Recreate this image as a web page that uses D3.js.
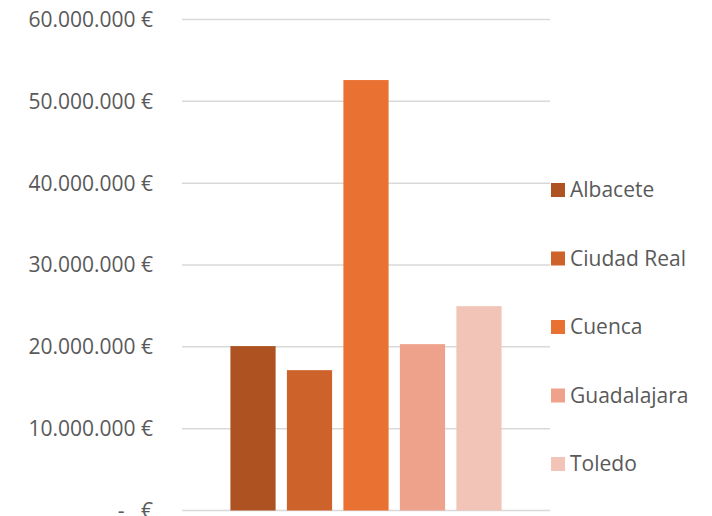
<!DOCTYPE html>
<html>
<head>
<meta charset="utf-8">
<script src="https://cdn.jsdelivr.net/npm/d3@7"></script>
<style>
	body { margin: 0; background: #fff; }
	svg { display: block; font-family: 'Open Sans', sans-serif; }
	.tick-label { fill: #595959; font-size: 21px; white-space: pre; }
	.legend-label { fill: #595959; font-size: 21px; }
	.grid line { stroke: #d9d9d9; stroke-width: 1.5; }
</style>
</head>
<body>
<script>
// provinces (one series each) and their totals in euro
var provinces = ['Albacete', 'Ciudad Real', 'Cuenca', 'Guadalajara', 'Toledo'];
var amounts = [20090000, 17150000, 52600000, 20330000, 24970000];
var colors = ['#AE5221', '#CE622B', '#E97132', '#EEA18B', '#F2C4B8'];
var yTicks = [0, 10000000, 20000000, 30000000, 40000000, 50000000, 60000000];

var width = 712,
	height = 516,
	plotLeft = 182,
	plotRight = 550,
	plotTop = 19.5,
	plotBottom = 510.5,
	labelRight = 153,
	swatchSize = 14,
	legendX = 551;

var svg = d3.select('body').append('svg')
	.attr('width', width)
	.attr('height', height);

var y = d3.scaleLinear()
	.domain([0, 60000000])
	.range([plotBottom, plotTop]);

var x = d3.scaleBand()
	.domain(provinces)
	.range([plotLeft, plotRight])
	.paddingInner(0.2)
	.paddingOuter(0.857);

var es = d3.formatLocale({ decimal: ',', thousands: '.', grouping: [3], currency: ['', ' €'] });
var fmt = es.format('$,.0f');
var tickText = function (d) { return d === 0 ? '-   €' : fmt(d); };

// gridlines
svg.append('g').attr('class', 'grid')
	.selectAll('line').data(yTicks).enter().append('line')
	.attr('x1', plotLeft).attr('x2', plotRight)
	.attr('y1', function (d) { return y(d); })
	.attr('y2', function (d) { return y(d); });

// y axis labels
svg.append('g')
	.selectAll('text').data(yTicks).enter().append('text')
	.attr('class', 'tick-label')
	.attr('x', labelRight)
	.attr('y', function (d) { return y(d); })
	.attr('dy', '0.35em')
	.attr('text-anchor', 'end')
	.text(tickText);

// bars
svg.append('g')
	.selectAll('rect').data(provinces).enter().append('rect')
	.attr('x', function (d) { return x(d); })
	.attr('width', x.bandwidth())
	.attr('y', function (d, i) { return y(amounts[i]); })
	.attr('height', function (d, i) { return y(0) - y(amounts[i]); })
	.attr('fill', function (d, i) { return colors[i]; });

// legend
var legendY = d3.scalePoint()
	.domain(provinces)
	.range([190, 464]);

var legend = svg.append('g')
	.selectAll('g').data(provinces).enter().append('g')
	.attr('transform', function (d) { return 'translate(' + legendX + ',' + legendY(d) + ')'; });
legend.append('rect')
	.attr('y', -swatchSize / 2)
	.attr('width', swatchSize)
	.attr('height', swatchSize)
	.attr('fill', function (d, i) { return colors[i]; });
legend.append('text')
	.attr('class', 'legend-label')
	.attr('x', 19)
	.attr('dy', '0.35em')
	.text(function (d) { return d; });
</script>
</body>
</html>
